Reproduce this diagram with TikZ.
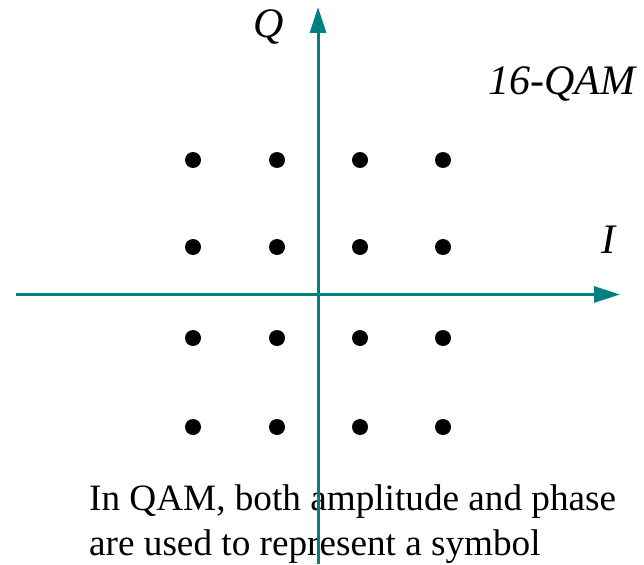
\documentclass[tikz,border=0pt]{standalone}
\usepackage{fontspec}
\setmainfont{Liberation Serif}
\usetikzlibrary{arrows.meta,positioning}
\definecolor{axisteal}{RGB}{0,128,128}

\begin{document}
\begin{tikzpicture}[
  x=1pt, y=-1pt,
  axis/.style={axisteal, line width=3pt, -{Triangle[length=26pt,width=16pt]}},
  dot/.style={circle, fill=black, inner sep=0pt, minimum size=16pt},
  lbl/.style={font=\itshape\fontsize{42}{44}\selectfont, inner sep=0pt},
  txt/.style={font=\fontsize{37.2}{44}\selectfont, inner sep=0pt, anchor=base west}
]
  \useasboundingbox (0,0) rectangle (644,564);

  % caption under the constellation
  \node[txt] (capa) at (89,510) {In QAM, both amplitude and phase};
  \node[txt] (capb) at (89,555) {are used to represent a symbol};

  % axes
  \coordinate (iwest) at (16,294.5);
  \coordinate (ieast) at (620,294.5);
  \coordinate (qsouth) at (318,564);
  \coordinate (qnorth) at (318,7);
  \draw[axis] (iwest) -- (ieast);
  \draw[axis] (qsouth) -- (qnorth);

  \node[lbl] (qlbl) at (269,27) {Q};
  \node[lbl] (ilbl) at (608,240) {I};
  \node[lbl] (title) at (562,84) {16-QAM};

  % constellation points
  \foreach \x [count=\i] in {193,277,360,443}
    \foreach \y [count=\j] in {160,247,338,427}
      \node[dot] (p\i\j) at (\x,\y) {};
\end{tikzpicture}
\end{document}
